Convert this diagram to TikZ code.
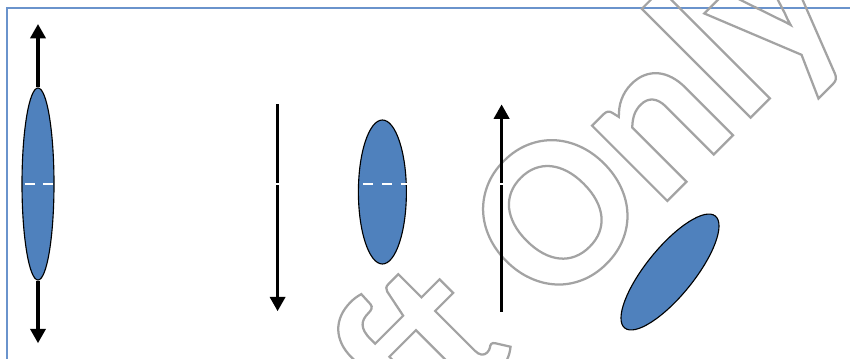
\documentclass[tikz,border=0pt]{standalone}
\usepackage{tikz}
\usepackage{xcolor}
\usepackage{fontspec}
\usetikzlibrary{arrows.meta, positioning, shapes.geometric}
\definecolor{lensblue}{HTML}{4F81BD}
\definecolor{frameblue}{HTML}{6A93CC}
\definecolor{wmgray}{HTML}{A3A3A3}
\newfontfamily\wmfont{Carlito}[BoldFont={Carlito Bold}]
\newcommand{\outlinetext}[1]{\special{pdf:literal direct 1 Tr 1.6 w}#1\special{pdf:literal direct 0 Tr}}

\begin{document}
\begin{tikzpicture}[
    lens/.style={draw, fill=lensblue, ellipse, line width=0.8pt, inner sep=0pt},
    ray/.style={line width=2.3pt, -{Triangle[width=0.38cm, length=0.36cm]}},
    axis/.style={white, line width=2pt, dash pattern=on 0.25cm off 0.22cm}
]
\useasboundingbox (0,0) rectangle (21.25,-8.95);
\clip (0,0) rectangle (21.25,-8.95);

% Frame
\draw[frameblue, line width=1pt] (0.17,-0.2) rectangle (22,-10);

% Watermark
\node[anchor=base, rotate=45, text=wmgray, inner sep=0pt, font=\wmfont\bfseries\fontsize{156}{162}\selectfont] (wm) at (13.09,-8.615) {\outlinetext{Draft Only}};

% Lens with rays both ways
\node[lens, minimum width=0.8cm, minimum height=4.8cm] (lensA) at (0.95,-4.6) {};
\coordinate (topA) at (0.95,-0.6);
\coordinate (botA) at (0.95,-8.58);
\draw[ray] (lensA.north) -- (topA);
\draw[ray] (lensA.south) -- (botA);

% Down ray
\coordinate (downS) at (6.94,-2.6);
\coordinate (downE) at (6.94,-7.78);
\draw[ray] (downS) -- (downE);

% Middle lens
\node[lens, minimum width=1.2cm, minimum height=3.6cm] (lensB) at (9.56,-4.8) {};

% Up ray
\coordinate (upS) at (12.54,-7.79);
\coordinate (upE) at (12.54,-2.61);
\draw[ray] (upS) -- (upE);

% Tilted lens
\node[lens, minimum width=1.2cm, minimum height=3.6cm, rotate=-39] (lensC) at (16.75,-6.8) {};

% Dashed axis
\draw[axis] ([xshift=0.08cm]lensA.west) -- ([xshift=0.08cm]lensA.west -| upS);
\end{tikzpicture}
\end{document}
